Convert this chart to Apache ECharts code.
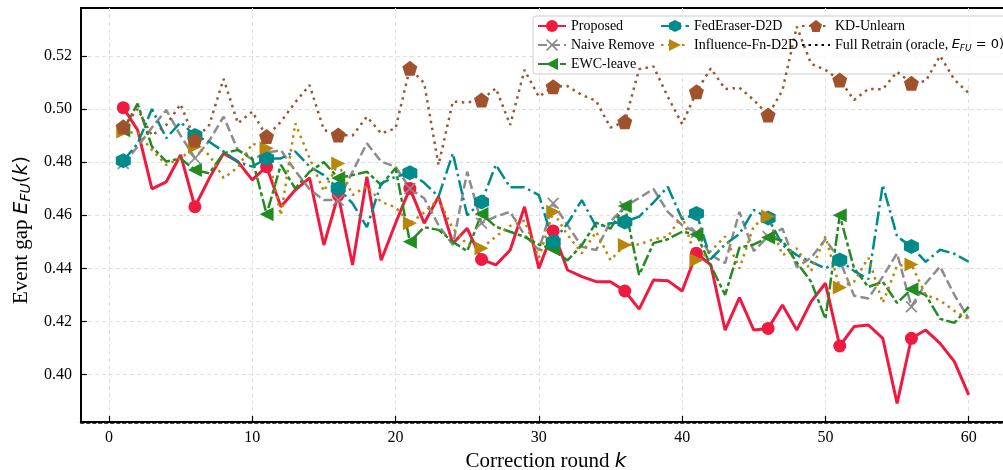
<!DOCTYPE html>
<html>
<head>
<meta charset="utf-8">
<script src="https://cdn.jsdelivr.net/npm/echarts@6/dist/echarts.min.js"></script>
<style>
html, body { margin: 0; padding: 0; background: #fff; }
#main { width: 1003px; height: 470px; }
</style>
</head>
<body>
<div id="main"></div>
<script>
// correction rounds k
var rounds = [1, 2, 3, 4, 5, 6, 7, 8, 9, 10, 11, 12, 13, 14, 15, 16, 17, 18, 19, 20,
    21, 22, 23, 24, 25, 26, 27, 28, 29, 30, 31, 32, 33, 34, 35, 36, 37, 38, 39, 40,
    41, 42, 43, 44, 45, 46, 47, 48, 49, 50, 51, 52, 53, 54, 55, 56, 57, 58, 59, 60];

var proposed = [0.5005, 0.4921, 0.4699, 0.4726, 0.4827, 0.4632, 0.4739, 0.4833, 0.4802, 0.4733,
    0.4783, 0.4632, 0.4695, 0.4741, 0.4488, 0.4676, 0.4413, 0.4745, 0.4431, 0.4570,
    0.4701, 0.4570, 0.4670, 0.4494, 0.4551, 0.4434, 0.4413, 0.4469, 0.4632, 0.4400,
    0.4541, 0.4394, 0.4369, 0.4350, 0.4350, 0.4315, 0.4247, 0.4356, 0.4354, 0.4315,
    0.4457, 0.4413, 0.4168, 0.4290, 0.4168, 0.4174, 0.4262, 0.4168, 0.4275, 0.4344,
    0.4108, 0.4181, 0.4187, 0.4137, 0.3892, 0.4137, 0.4168, 0.4118, 0.4049, 0.3924];

var naiveRemove = [0.4795, 0.4858, 0.4930, 0.4996, 0.4900, 0.4815, 0.4880, 0.4971, 0.4845, 0.4810,
    0.4835, 0.4845, 0.4767, 0.4698, 0.4657, 0.4657, 0.4764, 0.4871, 0.4802, 0.4783,
    0.4701, 0.4664, 0.4563, 0.4488, 0.4764, 0.4570, 0.4595, 0.4613, 0.4526, 0.4469,
    0.4645, 0.4563, 0.4482, 0.4469, 0.4576, 0.4632, 0.4665, 0.4699, 0.4613, 0.4563,
    0.4535, 0.4450, 0.4420, 0.4613, 0.4465, 0.4520, 0.4550, 0.4405, 0.4440, 0.4510,
    0.4430, 0.4297, 0.4287, 0.4369, 0.4457, 0.4256, 0.4344, 0.4407, 0.4300, 0.4212];

var ewcLeave = [0.4920, 0.5020, 0.4858, 0.4802, 0.4814, 0.4770, 0.4758, 0.4833, 0.4846, 0.4814,
    0.4604, 0.4790, 0.4700, 0.4764, 0.4800, 0.4740, 0.4751, 0.4764, 0.4714, 0.4777,
    0.4500, 0.4555, 0.4545, 0.4500, 0.4465, 0.4605, 0.4557, 0.4538, 0.4519, 0.4490,
    0.4472, 0.4430, 0.4488, 0.4572, 0.4550, 0.4635, 0.4375, 0.4495, 0.4510, 0.4538,
    0.4528, 0.4410, 0.4300, 0.4478, 0.4490, 0.4516, 0.4505, 0.4422, 0.4350, 0.4210,
    0.4600, 0.4400, 0.4330, 0.4350, 0.4270, 0.4322, 0.4300, 0.4210, 0.4195, 0.4255];

var fedEraser = [0.4805, 0.4870, 0.5000, 0.4890, 0.4950, 0.4900, 0.4877, 0.4840, 0.4800, 0.4783,
    0.4814, 0.4814, 0.4840, 0.4783, 0.4751, 0.4701, 0.4645, 0.4555, 0.4720, 0.4745,
    0.4760, 0.4722, 0.4670, 0.4833, 0.4600, 0.4650, 0.4790, 0.4705, 0.4705, 0.4676,
    0.4500, 0.4569, 0.4657, 0.4557, 0.4570, 0.4575, 0.4595, 0.4648, 0.4707, 0.4585,
    0.4607, 0.4435, 0.4490, 0.4530, 0.4620, 0.4590, 0.4488, 0.4450, 0.4425, 0.4400,
    0.4432, 0.4390, 0.4360, 0.4714, 0.4520, 0.4482, 0.4425, 0.4470, 0.4455, 0.4425];

var influenceFn = [0.4915, 0.4910, 0.4846, 0.4790, 0.4814, 0.4858, 0.4827, 0.4740, 0.4780, 0.4870,
    0.4852, 0.4600, 0.4946, 0.4815, 0.4690, 0.4795, 0.4676, 0.4710, 0.4650, 0.4630,
    0.4570, 0.4610, 0.4660, 0.4550, 0.4490, 0.4476, 0.4520, 0.4560, 0.4580, 0.4440,
    0.4613, 0.4526, 0.4457, 0.4538, 0.4431, 0.4488, 0.4490, 0.4510, 0.4520, 0.4597,
    0.4431, 0.4465, 0.4520, 0.4400, 0.4560, 0.4595, 0.4450, 0.4475, 0.4390, 0.4520,
    0.4328, 0.4350, 0.4440, 0.4270, 0.4410, 0.4415, 0.4300, 0.4280, 0.4240, 0.4210];

var kdUnlearn = [0.4933, 0.5000, 0.4900, 0.4940, 0.5018, 0.4883, 0.4940, 0.5113, 0.4946, 0.4990,
    0.4896, 0.4952, 0.5025, 0.5090, 0.4921, 0.4902, 0.4900, 0.4971, 0.4908, 0.4927,
    0.5153, 0.5097, 0.4789, 0.5028, 0.5024, 0.5034, 0.5078, 0.4940, 0.5147, 0.5046,
    0.5084, 0.5086, 0.5053, 0.5030, 0.4930, 0.4952, 0.5150, 0.5160, 0.5046, 0.4943,
    0.5065, 0.5153, 0.5075, 0.5080, 0.5034, 0.4977, 0.5070, 0.5310, 0.5170, 0.5147,
    0.5109, 0.5034, 0.5076, 0.5074, 0.5140, 0.5097, 0.5105, 0.5200, 0.5110, 0.5060];

// oracle: full retrain has zero gap
var oracleGap = 0;

var serif = 'Liberation Serif';
var mathFont = 'DejaVu Sans';
var oracleName = 'Full Retrain (oracle, E_FU = 0)';

var symX = 'path://M1,0L5,4L9,0L10,1L6,5L10,9L9,10L5,6L1,10L0,9L4,5L0,1Z';
var symHex = 'path://M5,0L9.33,2.5L9.33,7.5L5,10L0.67,7.5L0.67,2.5Z';
var symPent = 'path://M5,0L9.76,3.45L7.94,9.05L2.06,9.05L0.24,3.45Z';
var symLeft = 'path://M0,5L10,0L10,10Z';
var symRight = 'path://M10,5L0,0L0,10Z';

function makeSeries(name, vals, color, dash, width, symbol, size) {
    return {
        name: name,
        type: 'line',
        symbol: symbol,
        symbolSize: size,
        showAllSymbol: true,
        // marker on every 5th round
        data: vals.map(function (v, i) {
            return { value: [rounds[i], v], symbol: i % 5 === 0 ? symbol : 'none' };
        }),
        itemStyle: { color: color, borderWidth: 0 },
        lineStyle: { color: color, width: width, type: dash },
        emphasis: { disabled: true }
    };
}

var series = [
    makeSeries('Proposed', proposed, '#f01a40', 'solid', 3, 'circle', 13),
    makeSeries('Naive Remove', naiveRemove, '#8c8c8c', [9, 4], 2.5, symX, 12),
    makeSeries('EWC-leave', ewcLeave, '#228b22', [12, 3, 4, 3], 2.5, symLeft, 14),
    makeSeries('FedEraser-D2D', fedEraser, '#008b8b', [14, 4, 2.5, 4], 2.5, symHex, 15),
    makeSeries('Influence-Fn-D2D', influenceFn, '#b8860b', [2.5, 4.5], 2.5, symRight, 14),
    makeSeries('KD-Unlearn', kdUnlearn, '#a0522d', [2.5, 4.5], 2.5, symPent, 15),
    {
        name: oracleName,
        type: 'line',
        symbol: 'circle',
        showSymbol: false,
        data: rounds.map(function (k) { return [k, oracleGap]; }),
        lineStyle: { color: '#000', width: 2.5, type: [2.5, 4] },
        itemStyle: { color: '#000' }
    }
];

var legendText = {
    fontFamily: serif, fontSize: 14, color: '#000',
    rich: {
        m: { fontFamily: mathFont, fontStyle: 'italic', fontSize: 13, color: '#000' },
        s: { fontFamily: mathFont, fontStyle: 'italic', fontSize: 9, color: '#000', padding: [7, 0, 0, 0] },
        n: { fontFamily: mathFont, fontSize: 13, color: '#000' }
    }
};

function legendAt(left, names) {
    return {
        data: names,
        orient: 'vertical',
        left: left,
        top: 19,
        padding: 0,
        itemWidth: 28,
        itemHeight: 15,
        itemGap: 5,
        selectedMode: false,
        textStyle: legendText,
        formatter: function (name) {
            if (name === oracleName) return 'Full Retrain (oracle, {m|E}{s|FU}{n| = 0)}';
            return name;
        }
    };
}

var gridLine = { show: true, showMinLine: false, showMaxLine: false,
    lineStyle: { color: '#e0e0e0', width: 1, type: [4, 3] } };

var myChart = echarts.init(document.getElementById('main'));
myChart.setOption({
    animation: false,
    backgroundColor: '#fff',
    textStyle: { fontFamily: serif },
    grid: {
        left: 81, top: 8, right: -8, bottom: 48,
        show: true, borderColor: '#000', borderWidth: 1.8,
        containLabel: false, outerBoundsMode: 'none'
    },
    legend: [
        legendAt(537, ['Proposed', 'Naive Remove', 'EWC-leave']),
        legendAt(660, ['FedEraser-D2D', 'Influence-Fn-D2D']),
        legendAt(801, ['KD-Unlearn', { name: oracleName, itemStyle: { opacity: 0 } }])
    ],
    graphic: [{
        type: 'rect',
        z: 3,
        shape: { x: 533, y: 16, width: 480, height: 58, r: 3 },
        style: { fill: 'rgba(255,255,255,0.8)', stroke: '#cccccc', lineWidth: 1 }
    }],
    xAxis: {
        type: 'value',
        min: -1.95,
        max: 62.95,
        splitNumber: 6,
        name: '{t|Correction round }{m|k}',
        nameLocation: 'middle',
        nameGap: 23,
        nameTextStyle: {
            rich: {
                t: { fontFamily: serif, fontSize: 21, color: '#000' },
                m: { fontFamily: mathFont, fontStyle: 'italic', fontSize: 20, color: '#000' }
            }
        },
        axisLine: { show: true, onZero: false, lineStyle: { color: '#000', width: 2.5, type: [2.5, 3.5] } },
        axisTick: { inside: true, length: 6, lineStyle: { color: '#000', width: 1.2 } },
        axisLabel: {
            color: '#000', fontSize: 16, fontFamily: serif, margin: 8,
            showMinLabel: false, showMaxLabel: false,
            formatter: function (v) { return String(Math.round(v)); }
        },
        splitLine: gridLine
    },
    yAxis: {
        type: 'value',
        min: 0.3822,
        max: 0.538,
        splitNumber: 8,
        name: '{t|Event gap }{m|E}{s|FU}{n|(}{m|k}{n|)}',
        nameLocation: 'middle',
        nameGap: 42,
        nameTextStyle: {
            padding: [0, 30, 0, 0],
            rich: {
                t: { fontFamily: serif, fontSize: 21, color: '#000' },
                m: { fontFamily: mathFont, fontStyle: 'italic', fontSize: 20, color: '#000' },
                s: { fontFamily: mathFont, fontStyle: 'italic', fontSize: 14, color: '#000', padding: [9, 0, 0, 0] },
                n: { fontFamily: mathFont, fontSize: 20, color: '#000' }
            }
        },
        axisLine: { show: true, onZero: false, lineStyle: { color: '#000', width: 1.8 } },
        axisTick: { inside: true, length: 6, lineStyle: { color: '#000', width: 1.2 } },
        axisLabel: {
            color: '#000', fontSize: 16, fontFamily: serif, margin: 9,
            showMinLabel: false, showMaxLabel: false,
            formatter: function (v) { return v.toFixed(2); }
        },
        splitLine: gridLine
    },
    series: series
});
</script>
</body>
</html>
